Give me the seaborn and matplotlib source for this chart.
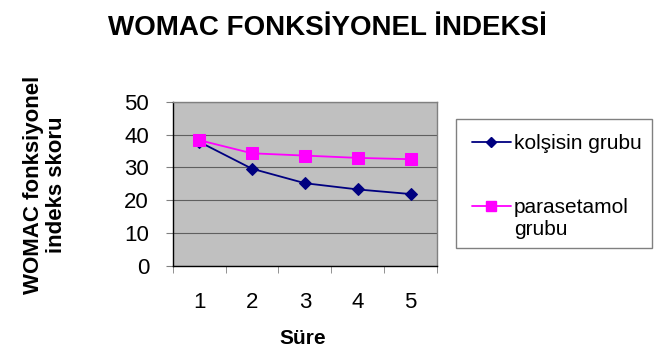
import numpy as np
import pandas as pd
import matplotlib
matplotlib.use('Agg')
import matplotlib.pyplot as plt
import seaborn as sns
from matplotlib.ticker import FixedLocator
from matplotlib.patches import Rectangle

# data
sure = [1, 2, 3, 4, 5]
kolsisin = [37.8, 29.6, 25.2, 23.3, 21.9]
parasetamol = [38.3, 34.3, 33.6, 32.9, 32.5]
groups = ['kolşisin grubu', 'parasetamol grubu']

df = pd.DataFrame({
    'Süre': sure * 2,
    'skor': kolsisin + parasetamol,
    'grup': [groups[0]] * len(sure) + [groups[1]] * len(sure),
})

sns.set_style('white')
plt.rcParams['font.family'] = ['Liberation Sans', 'DejaVu Sans']
plt.rcParams['text.color'] = 'black'
plt.rcParams['axes.labelcolor'] = 'black'
plt.rcParams['xtick.color'] = 'black'
plt.rcParams['ytick.color'] = 'black'

W, H = 654, 347
fig = plt.figure(figsize=(W / 100, H / 100), dpi=100)
ax = fig.add_axes([172.7 / W, 1 - 266 / H, 264.3 / W, 164.3 / H])
ax.set_facecolor('#C0C0C0')

palette = {groups[0]: '#000080', groups[1]: '#FF00FF'}
markers = {groups[0]: 'D', groups[1]: 's'}
sizes = {groups[0]: 6, groups[1]: 8}

sns.lineplot(data=df, x='Süre', y='skor', hue='grup', style='grup',
             palette=palette, markers=markers, dashes=False,
             markersize=7, linewidth=1.3, ax=ax, legend=False, zorder=3)
for line, g in zip(ax.lines, groups):
    line.set_markersize(sizes[g])
    line.set_markeredgecolor(palette[g])

ax.set_xlim(0.5, 5.5)
ax.set_ylim(0, 50)
ax.set_yticks(range(0, 51, 10))
ax.set_xticks(sure)
ax.xaxis.set_minor_locator(FixedLocator(np.arange(0.5, 5.6, 1)))
ax.tick_params(axis='x', which='major', length=0, labelsize=16, pad=19)
ax.tick_params(axis='x', which='minor', length=5, color='#808080', direction='out', bottom=True)
ax.tick_params(axis='y', length=5, color='#808080', direction='out', left=True, labelsize=16, pad=12)
ax.grid(axis='y', color='#000000', linewidth=0.8, alpha=0.5)
ax.set_axisbelow(True)
for k, s in ax.spines.items():
    s.set_color('#000000' if k in ('left', 'bottom') else '#808080')
    s.set_linewidth(1)

ax.set_xlabel('Süre', fontsize=15, fontweight='bold')
ax.xaxis.label.set_va('center')
ax.xaxis.set_label_coords(0.493, (266 - 338) / 164.3)
ax.set_ylabel('WOMAC fonksiyonel\nindeks skoru', fontsize=16, fontweight='bold', linespacing=1.15)
ax.yaxis.label.set_va('center')
ax.yaxis.set_label_coords((45 - 172.7) / 264.3, 0.495)
fig.text(0.5, 1 - 35 / H, 'WOMAC FONKSİYONEL İNDEKSİ', fontsize=20, fontweight='bold',
         ha='center', va='baseline')

# legend box
fig.patches.append(Rectangle((456 / W, 1 - 248 / H), 196 / W, 129 / H,
                             transform=fig.transFigure, facecolor='white',
                             edgecolor='#808080', linewidth=1))
handles = [plt.Line2D([], [], color=palette[g], marker=markers[g], markersize=sizes[g] - 1,
                      linewidth=1.3) for g in groups]
first_words = ['kolşisin grubu', 'parasetamol']
leg = fig.legend(handles, first_words, loc='upper left', bbox_to_anchor=(472 / W, 1 - 134 / H),
                 borderaxespad=0, borderpad=0, fontsize=15, labelspacing=2.15,
                 handlelength=1.85, handletextpad=0.15, frameon=False)
fig.canvas.draw()
t = leg.get_texts()[1]
bb = t.get_window_extent()
fig.text(bb.x0 / W, (bb.y0 - 18) / H, 'grubu', fontsize=15)

fig.savefig('out.png', dpi=100)
